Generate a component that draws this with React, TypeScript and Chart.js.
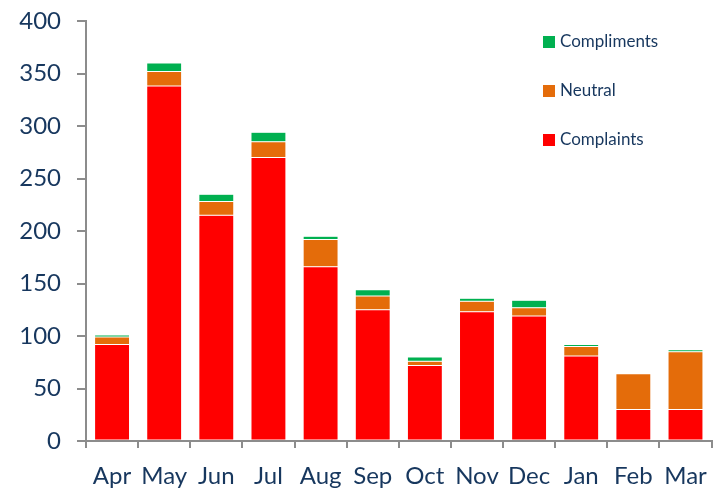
import React, { useEffect, useRef } from "react";
import { Chart, registerables } from "chart.js";

Chart.register(...registerables);

const months = ["Apr", "May", "Jun", "Jul", "Aug", "Sep", "Oct", "Nov", "Dec", "Jan", "Feb", "Mar"];
const complaints = [92, 338, 215, 270, 166, 125, 72, 123, 119, 81, 30, 30];
const neutral = [7, 14, 13, 15, 26, 13, 4, 10, 8, 9, 34, 55];
const compliments = [2, 8, 7, 9, 3, 6, 4, 3, 7, 2, 0, 2];
const yTicks = [0, 50, 100, 150, 200, 250, 300, 350, 400];

const TEXT = "#17375E";
const AXIS = "#8C8C8C";

const legendPlugin = {
  id: "customLegend",
  afterDraw(chart: any) {
    const ctx = chart.ctx;
    const items = [...chart.data.datasets].reverse();
    ctx.save();
    ctx.font = "17px Lato";
    ctx.textBaseline = "middle";
    items.forEach((ds: any, i: number) => {
      const y = 42 + i * 49;
      ctx.fillStyle = ds.backgroundColor;
      ctx.fillRect(543, y - 6, 12, 12);
      ctx.fillStyle = TEXT;
      ctx.fillText(ds.label, 560, y);
    });
    ctx.restore();
  },
};

export default function App() {
  const ref = useRef<HTMLCanvasElement>(null);
  useEffect(() => {
    if (!ref.current) return;
    const border = { borderColor: "rgba(255,255,255,0.25)", borderWidth: 0.5, borderSkipped: false };
    const chart = new Chart(ref.current, {
      type: "bar",
      data: {
        labels: months,
        datasets: [
          { label: "Complaints", data: complaints, backgroundColor: "#FF0000", ...border },
          { label: "Neutral", data: neutral, backgroundColor: "#E46C0A", ...border },
          { label: "Compliments", data: compliments, backgroundColor: "#00B050", ...border },
        ],
      },
      options: {
        animation: false,
        responsive: false,
        maintainAspectRatio: false,
        layout: { padding: { top: 21, right: 5, left: 0, bottom: 0 } },
        plugins: { legend: { display: false }, tooltip: { enabled: false } },
        datasets: { bar: { barPercentage: 0.67, categoryPercentage: 1 } },
        scales: {
          x: {
            stacked: true,
            grid: { display: true, drawOnChartArea: false, drawTicks: true, tickLength: 7, color: AXIS, lineWidth: 2, offset: true },
            border: { display: true, color: AXIS, width: 2 },
            ticks: { color: TEXT, font: { family: "Lato", size: 24 }, padding: 14, maxRotation: 0, autoSkip: false },
            afterFit: (s: any) => { s.height = 52; },
          },
          y: {
            stacked: true,
            min: 0,
            max: 400,
            afterBuildTicks: (s: any) => { s.ticks = yTicks.map((v) => ({ value: v })); },
            grid: { display: true, drawOnChartArea: false, drawTicks: true, tickLength: 9, color: AXIS, lineWidth: 2 },
            border: { display: true, color: AXIS, width: 2 },
            ticks: { color: TEXT, font: { family: "Lato", size: 24 }, padding: 16 },
            afterFit: (s: any) => { s.width = 86; s.paddingTop = 0; s.paddingBottom = 0; },
          },
        },
      },
      plugins: [legendPlugin],
    });
    return () => chart.destroy();
  }, []);
  return (
    <div style={{ position: "fixed", left: 0, top: 0, width: 721, height: 493, background: "#fff" }}>
      <canvas ref={ref} width={721} height={493} style={{ display: "block" }} />
    </div>
  );
}
